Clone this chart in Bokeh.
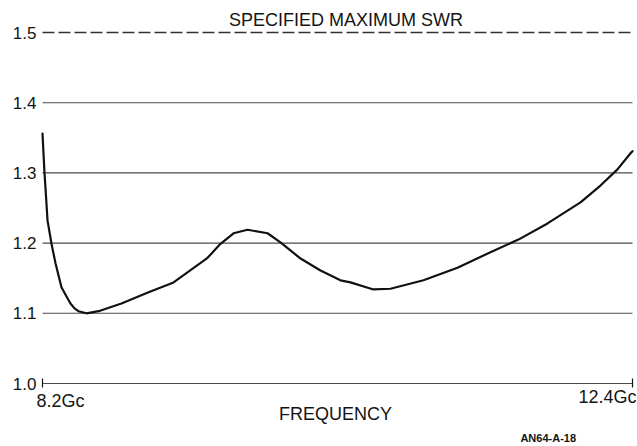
from bokeh.plotting import figure
from bokeh.models import Range1d
from bokeh.core.properties import value
from bokeh.embed import file_html
from bokeh.resources import INLINE

# Data (frequency in Gc, SWR)
freq = [8.200, 8.207, 8.214, 8.221, 8.236, 8.264, 8.293, 8.335, 8.371, 8.399,
        8.428, 8.456, 8.513, 8.599, 8.762, 8.955, 9.133, 9.375, 9.467, 9.560,
        9.659, 9.802, 9.894, 10.037, 10.179, 10.321, 10.392, 10.556, 10.677,
        10.912, 11.154, 11.389, 11.588, 11.795, 12.030, 12.172, 12.293, 12.386,
        12.400]
swr = [1.356, 1.328, 1.301, 1.279, 1.232, 1.199, 1.171, 1.137, 1.124, 1.114,
       1.107, 1.103, 1.100, 1.103, 1.114, 1.130, 1.144, 1.179, 1.199, 1.214,
       1.219, 1.214, 1.201, 1.178, 1.161, 1.147, 1.144, 1.134, 1.135,
       1.147, 1.165, 1.187, 1.205, 1.228, 1.258, 1.282, 1.305, 1.328,
       1.331]

y_ticks = [1.0, 1.1, 1.2, 1.3, 1.4, 1.5]
grid_levels = [1.0, 1.1, 1.2, 1.3, 1.4]
max_swr = 1.5
x_min, x_max = 8.2, 12.4
x_ticks = [8.2, 12.4]
x_tick_labels = ["8.2Gc", "12.4Gc"]
title_text = "SPECIFIED MAXIMUM SWR"
x_title = "FREQUENCY"
ref_code = "AN64-A-18"

FONT = "Liberation Sans"
INK = "#141414"

# The frame covers the whole canvas; scales chosen so 8.2..12.4 and 1.0..1.5
# fall where the reference draws them.
PX_X = 590 / 4.2
PX_Y = 351 / 0.5
p = figure(width=637, height=446, output_backend="svg", toolbar_location=None,
           x_range=Range1d(x_min - 42 / PX_X, x_min + 595 / PX_X),
           y_range=Range1d(1.0 - 63 / PX_Y, 1.0 + 383 / PX_Y),
           min_border=0)
p.outline_line_color = None
p.axis.visible = False
p.grid.visible = False
p.background_fill_color = "white"
p.border_fill_color = "white"

# horizontal rules
p.segment(x0=[x_min] * len(grid_levels), x1=[x_max] * len(grid_levels),
          y0=grid_levels, y1=grid_levels, line_color="#4a4a4a", line_width=1.1)
p.segment(x0=[x_min], x1=[x_max], y0=[max_swr], y1=[max_swr],
          line_color="#333333", line_width=1.6, line_dash="12 4")

# end ticks on the frequency base line
tick_lo = 1.0 - 4 / PX_Y
tick_hi = 1.0 + 5 / PX_Y
p.segment(x0=x_ticks, x1=x_ticks, y0=[tick_lo] * 2, y1=[tick_hi] * 2,
          line_color=INK, line_width=1.2)

# y labels
p.text(x=[x_min] * len(y_ticks), y=y_ticks, text=[f"{t:.1f}" for t in y_ticks],
       x_offset=-6, text_align="right", text_baseline="middle",
       text_font=value(FONT), text_font_size="17px", text_color=INK)

# curve
p.line(freq, swr, line_color="#111111", line_width=2.2, line_join="round",
       line_cap="round")

# x tick labels
p.text(x=[x_ticks[0]], y=[1.0], text=[x_tick_labels[0]], x_offset=-6, y_offset=17,
       text_align="left", text_baseline="alphabetic",
       text_font=value(FONT), text_font_size="18px", text_color=INK)
p.text(x=[x_ticks[1]], y=[1.0], text=[x_tick_labels[1]], x_offset=4, y_offset=13,
       text_align="right", text_baseline="alphabetic",
       text_font=value(FONT), text_font_size="18px", text_color=INK)

# axis title, spec label, drawing code
mid = 10.286
p.text(x=[mid], y=[1.0], text=[x_title], y_offset=30, text_align="center",
       text_baseline="alphabetic", text_font=value(FONT),
       text_font_size="18px", text_color=INK)
p.text(x=[10.36], y=[max_swr], text=[title_text], y_offset=-13, text_align="center",
       text_baseline="alphabetic", text_font=value(FONT),
       text_font_size="18px", text_color=INK)
p.text(x=[11.80], y=[1.0], text=[ref_code], y_offset=54, text_align="center",
       text_baseline="alphabetic", text_font=value(FONT),
       text_font_size="11px", text_font_style="bold", text_color=INK)

open("out.html", "w").write(file_html(p, INLINE))
